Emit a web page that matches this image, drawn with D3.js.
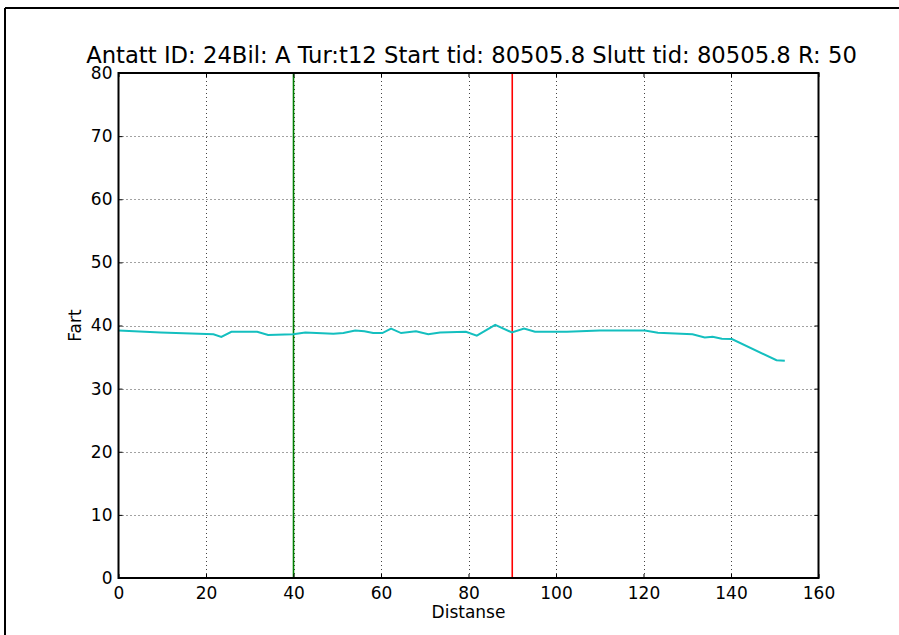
<!DOCTYPE html>
<html><head><meta charset="utf-8">
<script src="https://cdn.jsdelivr.net/npm/d3@7/dist/d3.min.js"></script>
<style>body{margin:0;background:#fff;}svg{display:block;font-family:"DejaVu Sans",sans-serif;}</style>
</head><body>
<svg id="c" width="899" height="635"></svg>
<script>
const titleText = "Antatt ID: 24Bil: A Tur:t12 Start tid: 80505.8 Slutt tid: 80505.8 R: 50";
const xLabel = "Distanse";
const yLabel = "Fart";
const distanse = [0, 9.6, 20.1, 21.7, 23.5, 25.8, 31.7, 34.2, 39.9, 42.7, 49.1, 51.4, 54.1, 56.2, 58.2, 60.3, 62.3, 64.6, 68.0, 70.8, 73.5, 79.4, 81.9, 86.1, 89.9, 92.7, 95.2, 102.5, 110.0, 120.3, 123.3, 131.2, 134.0, 135.8, 137.9, 140.2, 150.4, 152.3];
const fart = [39.2, 38.9, 38.65, 38.6, 38.2, 39.0, 39.0, 38.5, 38.6, 38.9, 38.7, 38.8, 39.2, 39.1, 38.8, 38.8, 39.5, 38.8, 39.1, 38.6, 38.9, 39.0, 38.4, 40.1, 38.9, 39.5, 39.0, 39.0, 39.2, 39.2, 38.85, 38.6, 38.1, 38.2, 37.9, 37.85, 34.5, 34.4];
const xTicks = [0, 20, 40, 60, 80, 100, 120, 140, 160];
const yTicks = [0, 10, 20, 30, 40, 50, 60, 70, 80];
const markerX = [40, 90];
const markerColors = ["#008000", "#ff0000"];

const svg = d3.select("#c");
const L = 118.5, R = 818.5, T = 73, B = 578;
const x = d3.scaleLinear().domain([0, 160]).range([L, R]);
const y = d3.scaleLinear().domain([0, 80]).range([B, T]);

// outer frame
svg.append("line").attr("x1",5).attr("x2",5).attr("y1",8).attr("y2",635).attr("stroke","#000").attr("stroke-width",2);
svg.append("line").attr("x1",5).attr("x2",899).attr("y1",8).attr("y2",8).attr("stroke","#000").attr("stroke-width",2);

// grid
svg.append("g").selectAll("line").data(xTicks.slice(1,-1)).join("line")
  .attr("x1",d=>Math.round(x(d))+0.5).attr("x2",d=>Math.round(x(d))+0.5).attr("y1",T).attr("y2",B)
  .attr("stroke","#444").attr("stroke-width",1).attr("stroke-dasharray","1,3");
svg.append("g").selectAll("line").data(yTicks.slice(1,-1)).join("line")
  .attr("y1",d=>Math.round(y(d))+0.5).attr("y2",d=>Math.round(y(d))+0.5).attr("x1",L).attr("x2",R)
  .attr("stroke","#444").attr("stroke-width",1).attr("stroke-dasharray","1,3");

// markers
svg.append("g").selectAll("line").data(markerX).join("line")
  .attr("x1",d=>x(d)).attr("x2",d=>x(d)).attr("y1",T).attr("y2",B)
  .attr("stroke",(d,i)=>markerColors[i]).attr("stroke-width",1.6);

// data line
const pts = distanse.map((d,i)=>[d,fart[i]]);
svg.append("path").datum(pts)
  .attr("d", d3.line().x(d=>x(d[0])).y(d=>y(d[1])))
  .attr("fill","none").attr("stroke","#14bfbf").attr("stroke-width",2);

// axes with inner ticks
const fs = "17px";
const xAx = svg.append("g").attr("transform",`translate(0,${B})`)
  .call(d3.axisBottom(x).tickValues(xTicks).tickSize(-4).tickPadding(9).tickFormat(d3.format("d")));
const xAxT = svg.append("g").attr("transform",`translate(0,${T})`)
  .call(d3.axisTop(x).tickValues(xTicks).tickSize(-4).tickFormat(""));
const yAx = svg.append("g").attr("transform",`translate(${L},0)`)
  .call(d3.axisLeft(y).tickValues(yTicks).tickSize(-4).tickPadding(6).tickFormat(d3.format("d")));
const yAxR = svg.append("g").attr("transform",`translate(${R},0)`)
  .call(d3.axisRight(y).tickValues(yTicks).tickSize(-4).tickFormat(""));
[xAx,xAxT,yAx,yAxR].forEach(g=>{
  g.select(".domain").remove();
  g.selectAll("line").attr("stroke","#000");
  g.selectAll("text").attr("font-size",fs).attr("font-family","DejaVu Sans").attr("fill","#000");
});
// frame of axes
svg.append("rect").attr("x",L).attr("y",T).attr("width",R-L).attr("height",B-T)
  .attr("fill","none").attr("stroke","#000").attr("stroke-width",2);

// title & labels
const t = svg.append("text").attr("x",(L+R)/2+3).attr("y",63).attr("text-anchor","middle")
  .attr("font-size","20px").text(titleText);
const w = t.node().getComputedTextLength();
t.attr("font-size", (20*771/w).toFixed(2)+"px");
svg.append("text").attr("x",(L+R)/2).attr("y",618).attr("text-anchor","middle").attr("font-size","17px").text(xLabel);
svg.append("text").attr("transform",`translate(81,${(T+B)/2}) rotate(-90)`).attr("text-anchor","middle").attr("font-size","17px").text(yLabel);
</script>
</body></html>
